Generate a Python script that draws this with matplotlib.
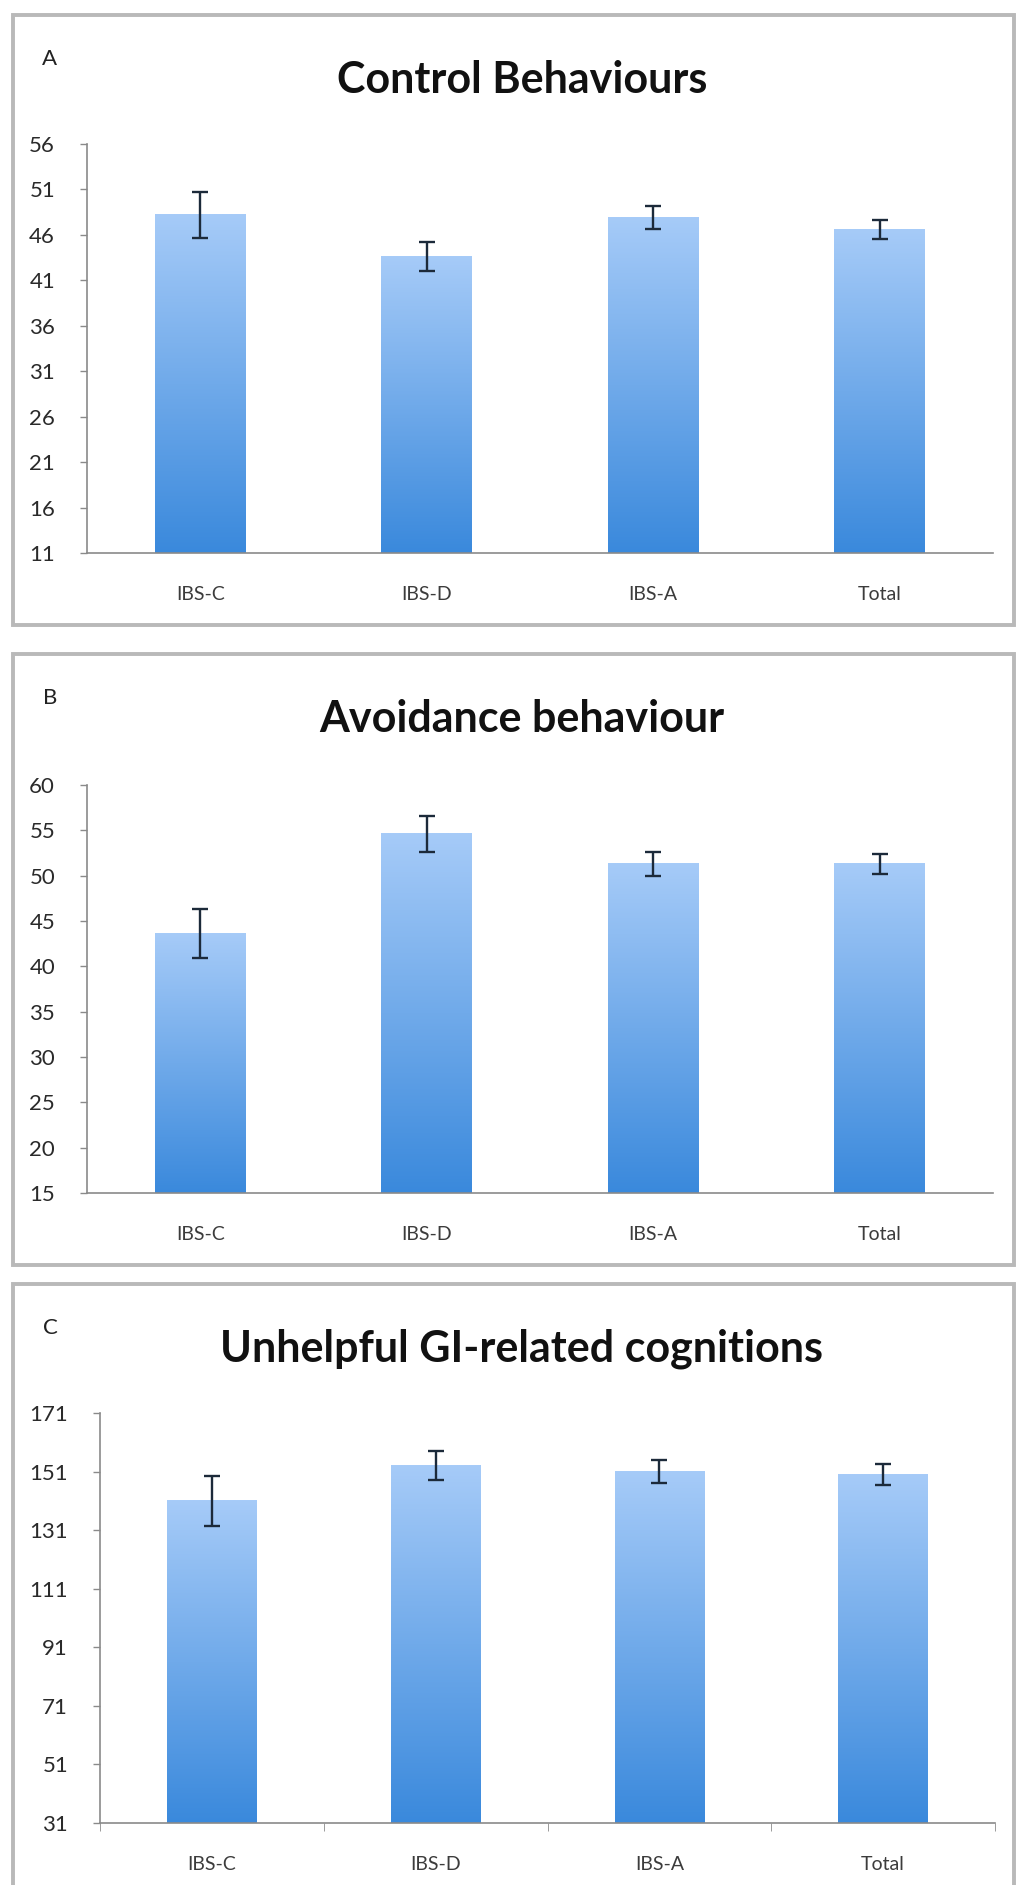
import matplotlib
matplotlib.use("Agg")
import matplotlib.pyplot as plt
import numpy as np
from matplotlib.colors import LinearSegmentedColormap
from matplotlib.patches import Rectangle

plt.rcParams['font.family'] = ['Lato', 'DejaVu Sans']

groups = ['IBS-C', 'IBS-D', 'IBS-A', 'Total']

control_mean = [48.2, 43.6, 47.9, 46.6]
control_err = [2.5, 1.6, 1.3, 1.0]

avoid_mean = [43.6, 54.6, 51.3, 51.3]
avoid_err = [2.7, 2.0, 1.3, 1.1]

cogn_mean = [141.0, 153.0, 151.0, 150.0]
cogn_err = [8.5, 5.0, 4.0, 3.5]

panels = [
    # letter, title, means, errors, y ticks, axes box (px), frame top (px)
    ('A', 'Control Behaviours', control_mean, control_err,
     np.arange(11, 57, 5), (87, 144, 993, 553), 15),
    ('B', 'Avoidance behaviour', avoid_mean, avoid_err,
     np.arange(15, 61, 5), (87, 785, 993, 1193), 654),
    ('C', 'Unhelpful GI-related cognitions', cogn_mean, cogn_err,
     np.arange(31, 172, 20), (100, 1413, 995, 1823), 1284),
]
frame_bottoms = [625, 1265, 1910]

W, H = 1016, 1885
fig = plt.figure(figsize=(W / 100, H / 100), dpi=100)

# vertical gradient used to fill the bars (dark at bottom, light at top)
grad = LinearSegmentedColormap.from_list('bar', ['#3a89dc', '#a6cbf8'])
ramp = np.linspace(0, 1, 256).reshape(-1, 1)

for k, (letter, title, means, errs, yt, box, ftop) in enumerate(panels):
    # grey frame around each panel
    fig.patches.append(Rectangle((13 / W, 1 - frame_bottoms[k] / H),
                                 1001 / W, (frame_bottoms[k] - ftop) / H,
                                 transform=fig.transFigure, fill=False,
                                 edgecolor='#b9b9b9', linewidth=2.8))
    fig.text(50 / W, 1 - (ftop + 44) / H, letter, fontsize=16,
             ha='center', va='center', color='#222222')
    fig.text(522 / W, 1 - (ftop + 65) / H, title, fontsize=31,
             fontweight='bold', ha='center', va='center', color='#111111')

    x0, y0, x1, y1 = box
    ax = fig.add_axes([x0 / W, 1 - y1 / H, (x1 - x0) / W, (y1 - y0) / H])
    x = np.arange(len(groups))
    bars = ax.bar(x, means, width=0.4, bottom=yt[0], color='none')
    for b, m in zip(bars, means):
        bx = b.get_x()
        ax.imshow(ramp, cmap=grad, origin='lower', aspect='auto',
                  extent=[bx, bx + b.get_width(), yt[0], m], zorder=1)
    ax.errorbar(x, means, yerr=errs, fmt='none', ecolor='#1c2a3a',
                elinewidth=1.7, capsize=6, capthick=1.7, zorder=3)

    ax.set_xlim(-0.5, 3.5)
    ax.set_ylim(yt[0], yt[-1])
    ax.set_yticks(yt)
    ax.set_xticks(x)
    ax.set_xticklabels(groups, fontsize=14, color='#3c3c3c')
    ax.tick_params(axis='y', labelsize=16, labelcolor='#2a2a2a',
                   color='#8a8a8a', length=5, width=1, pad=18)
    ax.tick_params(axis='x', length=0, pad=24)
    if letter == 'C':
        ax.set_xticks([-0.5, 0.5, 1.5, 2.5, 3.5], minor=True)
        ax.tick_params(axis='x', which='minor', length=6, color='#8a8a8a')
    for s in ['top', 'right']:
        ax.spines[s].set_visible(False)
    for s in ['left', 'bottom']:
        ax.spines[s].set_color('#8a8a8a')
        ax.spines[s].set_linewidth(1.2)

fig.savefig('out.png', dpi=100, facecolor='white')
